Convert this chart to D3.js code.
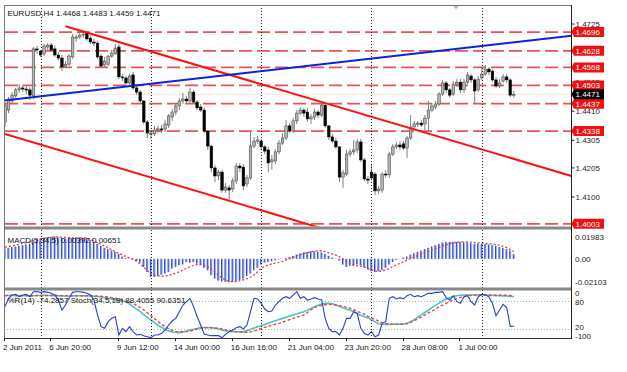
<!DOCTYPE html>
<html><head><meta charset="utf-8">
<script src="https://cdn.jsdelivr.net/npm/d3@7"></script>
<style>body{margin:0;background:#fff}svg{display:block}text{font-family:"Liberation Sans",Arial,sans-serif;font-size:8px}</style>
</head><body><svg id="c" width="627" height="372"></svg>
<script>
const headerText = "EURUSD,H4  1.4468 1.4483 1.4459 1.4471";
const macdText = "MACD(5,34,5) 0.00392 0.00651";
const oscText = "%R(14) -74.2857  Stoch(34,5,18) 88.4055 90.6351";

const open = [1.4371,1.4414,1.4447,1.4465,1.4487,1.4494,1.4490,1.4487,1.4465,1.4635,1.4627,1.4617,1.4642,1.4649,1.4635,1.4613,1.4602,1.4573,1.4580,1.4606,1.4674,1.4678,1.4685,1.4692,1.4674,1.4660,1.4656,1.4609,1.4577,1.4580,1.4609,1.4617,1.4642,1.4534,1.4530,1.4512,1.4541,1.4494,1.4479,1.4447,1.4371,1.4328,1.4328,1.4342,1.4346,1.4346,1.4360,1.4389,1.4407,1.4429,1.4447,1.4454,1.4447,1.4479,1.4443,1.4425,1.4414,1.4338,1.4284,1.4205,1.4176,1.4190,1.4125,1.4133,1.4129,1.4158,1.4212,1.4208,1.4147,1.4169,1.4284,1.4302,1.4302,1.4281,1.4270,1.4227,1.4230,1.4263,1.4295,1.4313,1.4357,1.4338,1.4375,1.4403,1.4414,1.4407,1.4382,1.4389,1.4407,1.4396,1.4432,1.4357,1.4317,1.4302,1.4281,1.4172,1.4183,1.4255,1.4263,1.4270,1.4299,1.4234,1.4165,1.4190,1.4183,1.4122,1.4125,1.4183,1.4180,1.4255,1.4281,1.4288,1.4292,1.4277,1.4313,1.4353,1.4364,1.4367,1.4364,1.4385,1.4414,1.4425,1.4436,1.4472,1.4512,1.4487,1.4472,1.4508,1.4515,1.4487,1.4515,1.4537,1.4523,1.4487,1.4530,1.4544,1.4562,1.4555,1.4523,1.4501,1.4519,1.4534,1.4523,1.4468];
const high = [1.4440,1.4461,1.4479,1.4494,1.4508,1.4505,1.4501,1.4497,1.4642,1.4646,1.4631,1.4653,1.4656,1.4656,1.4646,1.4624,1.4613,1.4591,1.4617,1.4689,1.4685,1.4696,1.4700,1.4700,1.4685,1.4671,1.4664,1.4617,1.4606,1.4613,1.4631,1.4653,1.4653,1.4544,1.4537,1.4544,1.4552,1.4501,1.4487,1.4450,1.4378,1.4342,1.4357,1.4357,1.4360,1.4378,1.4400,1.4418,1.4440,1.4458,1.4476,1.4465,1.4494,1.4487,1.4450,1.4436,1.4422,1.4342,1.4288,1.4216,1.4198,1.4198,1.4151,1.4143,1.4169,1.4223,1.4223,1.4219,1.4180,1.4335,1.4317,1.4320,1.4310,1.4288,1.4281,1.4252,1.4273,1.4306,1.4331,1.4378,1.4367,1.4385,1.4414,1.4425,1.4422,1.4422,1.4400,1.4418,1.4414,1.4443,1.4440,1.4360,1.4328,1.4313,1.4284,1.4198,1.4270,1.4273,1.4306,1.4310,1.4310,1.4241,1.4176,1.4216,1.4190,1.4140,1.4190,1.4198,1.4263,1.4292,1.4299,1.4302,1.4302,1.4320,1.4396,1.4375,1.4375,1.4378,1.4396,1.4447,1.4440,1.4447,1.4479,1.4523,1.4519,1.4494,1.4519,1.4526,1.4526,1.4526,1.4552,1.4544,1.4530,1.4537,1.4570,1.4577,1.4570,1.4562,1.4534,1.4526,1.4544,1.4544,1.4530,1.4483];
const low = [1.4353,1.4403,1.4440,1.4458,1.4476,1.4479,1.4472,1.4450,1.4454,1.4617,1.4606,1.4609,1.4631,1.4624,1.4606,1.4595,1.4555,1.4566,1.4573,1.4599,1.4660,1.4671,1.4674,1.4664,1.4653,1.4646,1.4599,1.4566,1.4570,1.4573,1.4602,1.4613,1.4526,1.4519,1.4501,1.4505,1.4487,1.4468,1.4440,1.4364,1.4313,1.4310,1.4320,1.4331,1.4331,1.4335,1.4349,1.4375,1.4396,1.4414,1.4436,1.4436,1.4436,1.4436,1.4414,1.4407,1.4331,1.4270,1.4190,1.4154,1.4161,1.4115,1.4115,1.4082,1.4118,1.4147,1.4190,1.4125,1.4136,1.4161,1.4277,1.4292,1.4270,1.4255,1.4190,1.4198,1.4219,1.4255,1.4288,1.4306,1.4331,1.4331,1.4364,1.4396,1.4389,1.4371,1.4364,1.4378,1.4385,1.4389,1.4349,1.4306,1.4295,1.4273,1.4154,1.4133,1.4176,1.4245,1.4252,1.4259,1.4227,1.4158,1.4147,1.4161,1.4107,1.4111,1.4115,1.4169,1.4169,1.4248,1.4273,1.4270,1.4270,1.4241,1.4306,1.4342,1.4353,1.4353,1.4335,1.4335,1.4407,1.4418,1.4429,1.4465,1.4476,1.4458,1.4465,1.4497,1.4476,1.4476,1.4508,1.4512,1.4440,1.4479,1.4523,1.4537,1.4541,1.4515,1.4494,1.4494,1.4512,1.4512,1.4461,1.4459];
const close = [1.4432,1.4450,1.4468,1.4487,1.4494,1.4490,1.4487,1.4468,1.4635,1.4631,1.4613,1.4646,1.4649,1.4631,1.4613,1.4602,1.4570,1.4580,1.4609,1.4678,1.4678,1.4685,1.4689,1.4671,1.4660,1.4656,1.4606,1.4573,1.4591,1.4609,1.4620,1.4638,1.4534,1.4530,1.4512,1.4537,1.4494,1.4479,1.4447,1.4371,1.4331,1.4331,1.4342,1.4346,1.4342,1.4364,1.4393,1.4407,1.4429,1.4447,1.4454,1.4447,1.4479,1.4443,1.4422,1.4414,1.4338,1.4284,1.4205,1.4176,1.4190,1.4125,1.4136,1.4125,1.4158,1.4212,1.4205,1.4140,1.4169,1.4284,1.4302,1.4306,1.4281,1.4266,1.4223,1.4234,1.4263,1.4295,1.4313,1.4357,1.4338,1.4375,1.4403,1.4414,1.4403,1.4382,1.4389,1.4407,1.4396,1.4432,1.4357,1.4317,1.4302,1.4281,1.4172,1.4187,1.4255,1.4263,1.4270,1.4299,1.4234,1.4165,1.4161,1.4169,1.4122,1.4129,1.4183,1.4180,1.4255,1.4281,1.4288,1.4281,1.4277,1.4313,1.4353,1.4364,1.4367,1.4360,1.4385,1.4414,1.4429,1.4436,1.4472,1.4512,1.4487,1.4468,1.4508,1.4515,1.4487,1.4515,1.4541,1.4523,1.4483,1.4526,1.4544,1.4562,1.4552,1.4523,1.4501,1.4512,1.4534,1.4523,1.4468,1.4471];

const macdMain = [0.0092,0.0098,0.0104,0.0110,0.0116,0.0122,0.0128,0.0134,0.0152,0.0170,0.0182,0.0188,0.0194,0.0197,0.0198,0.0194,0.0188,0.0182,0.0182,0.0188,0.0191,0.0191,0.0188,0.0182,0.0170,0.0152,0.0134,0.0116,0.0098,0.0086,0.0074,0.0062,0.0044,0.0020,0.0008,0.0002,-0.0004,-0.0022,-0.0034,-0.0072,-0.0117,-0.0162,-0.0162,-0.0153,-0.0141,-0.0132,-0.0117,-0.0087,-0.0072,-0.0057,-0.0051,-0.0028,-0.0034,-0.0028,-0.0043,-0.0051,-0.0081,-0.0102,-0.0147,-0.0177,-0.0195,-0.0203,-0.0207,-0.0210,-0.0206,-0.0200,-0.0192,-0.0177,-0.0153,-0.0132,-0.0102,-0.0081,-0.0051,-0.0034,-0.0028,-0.0022,-0.0013,-0.0004,0.0002,0.0008,0.0017,0.0026,0.0038,0.0047,0.0056,0.0062,0.0068,0.0068,0.0062,0.0056,0.0044,0.0026,0.0011,0.0002,-0.0016,-0.0051,-0.0072,-0.0063,-0.0057,-0.0051,-0.0057,-0.0075,-0.0093,-0.0111,-0.0117,-0.0111,-0.0099,-0.0081,-0.0051,-0.0028,-0.0010,0.0002,0.0011,0.0020,0.0038,0.0050,0.0062,0.0074,0.0086,0.0098,0.0110,0.0122,0.0134,0.0146,0.0152,0.0152,0.0152,0.0152,0.0152,0.0146,0.0146,0.0140,0.0134,0.0134,0.0134,0.0131,0.0128,0.0122,0.0116,0.0107,0.0098,0.0086,0.0074,0.0039];
const macdSignal = [0.0105,0.0110,0.0116,0.0122,0.0130,0.0138,0.0146,0.0154,0.0162,0.0170,0.0178,0.0185,0.0190,0.0194,0.0196,0.0196,0.0194,0.0192,0.0190,0.0189,0.0188,0.0188,0.0187,0.0185,0.0178,0.0160,0.0145,0.0130,0.0114,0.0098,0.0080,0.0064,0.0050,0.0035,0.0020,0.0008,-0.0005,-0.0022,-0.0045,-0.0075,-0.0105,-0.0130,-0.0147,-0.0153,-0.0155,-0.0153,-0.0148,-0.0138,-0.0128,-0.0117,-0.0100,-0.0085,-0.0070,-0.0058,-0.0052,-0.0051,-0.0058,-0.0072,-0.0092,-0.0117,-0.0145,-0.0170,-0.0190,-0.0200,-0.0205,-0.0205,-0.0198,-0.0188,-0.0178,-0.0165,-0.0145,-0.0115,-0.0085,-0.0068,-0.0055,-0.0045,-0.0038,-0.0032,-0.0022,-0.0010,0.0002,0.0014,0.0026,0.0038,0.0048,0.0056,0.0064,0.0070,0.0073,0.0070,0.0064,0.0054,0.0045,0.0033,0.0018,0.0000,-0.0025,-0.0045,-0.0058,-0.0063,-0.0065,-0.0075,-0.0087,-0.0100,-0.0110,-0.0112,-0.0108,-0.0098,-0.0085,-0.0070,-0.0055,-0.0040,-0.0025,-0.0010,0.0003,0.0017,0.0030,0.0043,0.0055,0.0067,0.0079,0.0091,0.0103,0.0115,0.0126,0.0136,0.0143,0.0148,0.0151,0.0152,0.0151,0.0149,0.0146,0.0143,0.0140,0.0137,0.0134,0.0131,0.0127,0.0120,0.0112,0.0100,0.0082,0.0065];

const wpr = [-32.6,-14.9,-7.9,-6.4,-11.4,-7.9,-6.4,-11.4,-0.8,-0.5,-2.2,-0.8,-2.2,-4.3,-7.9,-18.5,-39.7,-29.1,-14.9,-2.2,-0.8,-0.8,-2.2,-4.3,-7.9,-18.5,-50.2,-75.0,-78.6,-64.5,-57.4,-53.9,-92.8,-78.6,-85.7,-75.0,-85.7,-92.8,-91.4,-94.2,-96.4,-98.4,-92.8,-92.8,-89.2,-82.2,-71.6,-63.1,-57.4,-43.2,-29.1,-22.0,-14.9,-32.6,-53.9,-71.6,-91.4,-92.8,-94.2,-94.2,-94.2,-98.4,-91.4,-85.7,-82.2,-77.2,-75.0,-80.0,-71.6,-43.2,-14.9,-16.3,-25.5,-37.6,-43.2,-41.8,-29.1,-22.0,-14.9,-11.4,-14.9,-7.9,-0.5,-14.9,-11.4,-18.5,-16.3,-13.5,-16.3,-18.5,-57.4,-78.6,-85.7,-85.7,-92.8,-78.6,-57.4,-57.4,-43.2,-46.8,-78.6,-89.2,-92.8,-85.7,-96.4,-92.8,-68.0,-64.5,-14.9,-11.4,-16.3,-13.5,-16.3,-9.3,-6.4,-11.4,-9.3,-11.4,-7.9,-4.3,-4.3,-2.2,-2.2,-0.8,-13.5,-18.5,-9.3,-22.0,-25.5,-11.4,-9.3,-22.0,-29.1,-11.4,-6.4,-7.9,-11.4,-25.5,-51.7,-39.7,-27.7,-34.7,-74.4,-74.2857];
const stochMain = [90.5,91.0,91.2,91.0,90.8,90.6,90.5,90.3,90.6,91.0,91.2,91.3,91.2,91.0,90.8,90.5,90.2,90.0,90.0,90.2,90.4,90.5,90.5,90.3,90.0,89.5,88.8,87.8,86.5,85.0,83.5,82.0,80.5,79.2,78.0,73.0,67.5,62.0,56.8,50.5,44.5,39.1,33.5,28.0,23.5,19.5,15.5,13.5,12.5,12.2,13.5,15.5,17.8,19.5,21.0,22.8,23.2,23.2,22.8,21.5,20.0,18.0,16.0,14.5,14.3,14.0,14.0,14.3,16.5,19.5,22.0,24.5,27.0,29.5,32.0,35.0,37.5,40.0,42.5,45.0,47.5,49.7,52.0,54.5,56.8,60.0,63.5,67.0,70.5,73.0,74.4,74.5,73.5,71.0,67.5,65.0,62.0,60.0,56.5,52.5,49.0,46.5,43.5,39.5,35.0,31.0,30.0,29.8,29.8,30.0,30.4,30.6,31.0,32.0,35.5,39.5,45.0,50.0,55.0,60.0,65.5,70.0,75.0,79.5,83.5,86.5,89.0,90.7,91.5,92.0,92.1,92.2,92.1,92.1,92.0,92.0,91.6,91.2,90.7,90.4,90.2,90.0,89.2,88.4055];
const stochSignal = [91.2,91.3,91.3,91.2,91.0,90.9,90.8,90.7,90.7,90.8,91.0,91.1,91.2,91.2,91.1,91.0,90.8,90.6,90.4,90.3,90.3,90.4,90.5,90.5,90.4,90.2,89.9,89.4,88.7,87.8,86.6,85.2,83.5,81.0,78.0,77.5,74.4,70.0,65.5,60.5,54.5,48.5,42.0,35.5,30.0,25.0,20.5,17.0,14.8,14.0,14.0,14.3,15.5,17.5,20.0,21.8,22.6,22.8,22.6,22.0,21.4,20.0,18.5,16.8,15.5,14.5,13.6,13.0,12.9,13.8,16.0,18.5,21.0,23.5,26.0,28.0,30.0,32.0,34.5,37.0,40.0,42.6,45.0,47.5,50.0,55.0,61.0,65.5,68.8,70.5,71.5,72.3,72.0,71.0,69.5,68.0,66.0,64.0,61.0,57.5,54.5,51.5,47.0,43.5,40.0,36.5,33.5,31.5,30.5,29.9,29.8,29.8,29.9,31.0,34.0,37.5,41.5,45.5,50.0,54.0,58.0,62.5,67.0,70.5,74.5,78.5,81.5,84.5,87.0,89.0,90.5,91.5,92.1,92.1,92.1,92.1,92.1,92.1,92.0,92.0,91.8,91.5,91.0,90.6351];

const levelPrices = [1.4696, 1.4628, 1.4568, 1.4503, 1.4437, 1.4338, 1.4003];
const bidPrice = 1.4471;
const priceTicks = [1.4725, 1.4515, 1.4410, 1.4305, 1.4205, 1.4100];
const macdTicks = [0.01983, 0.00, -0.02103];
const macdTickLabels = ["0.01983", "0.00", "-0.02103"];
const oscLevels = [80, 20];
const oscAxisLabels = ["0", "80", "20", "-100"];
const oscAxisValues = [100, 80, 20, 0];
const oscAxisShift = [5, 4.5, 1.5, 1];
const timeLabels = ["2 Jun 2011","6 Jun 20:00","9 Jun 12:00","14 Jun 00:00","16 Jun 16:00","21 Jun 04:00","23 Jun 20:00","28 Jun 08:00","1 Jul 00:00"];
const timeLabelBars = [0, 13, 32, 48, 64, 80, 96, 112, 128];
const weekStartBars = [10, 41, 72, 103, 134];
// trend lines: [bar1, price1, bar2, price2, extendLeft]
const upperChannel = [17, 1.4717, 119, 1.4329, false];
const lowerChannel = [0, 1.4328, 60, 1.4098, true];
const blueTrend = [0, 1.4449, 120, 1.4625, true];

const svg = d3.select("#c");
const L = 4, R = 571.5;
const mainTop = 5, mainBot = 226.5, macdTop = 229.5, macdBot = 287.5, oscTop = 290.5, oscBot = 338;

const x = d3.scaleLinear().domain([0, 143]).range([5, 513.8]);
const y = d3.scaleLinear().domain([1.4100, 1.4725]).range([197, 24]);
const ym = d3.scaleLinear().domain([-0.02103, 0.01983]).range([282.3, 236.7]);
const ys = d3.scaleLinear().domain([0, 100]).range([338.4, 291.3]);
const yw = d3.scaleLinear().domain([-100, 0]).range([338.4, 291.3]);

const defs = svg.append("defs");
function clip(id, y0, y1){ defs.append("clipPath").attr("id", id).append("rect").attr("x", L).attr("y", y0).attr("width", R - L).attr("height", y1 - y0); }
clip("cm", mainTop, mainBot); clip("cd", macdTop, macdBot); clip("co", oscTop, oscBot);

const gMain = svg.append("g").attr("clip-path", "url(#cm)");
const gMacd = svg.append("g").attr("clip-path", "url(#cd)");
const gOsc = svg.append("g").attr("clip-path", "url(#co)");

gMain.append("line").attr("x1", L).attr("x2", R).attr("y1", y(bidPrice)).attr("y2", y(bidPrice)).attr("stroke", "#f6e6d2").attr("stroke-width", 1);
gMain.selectAll(".lvl").data(levelPrices).enter().append("line")
  .attr("x1", L + 1).attr("x2", R).attr("y1", d => y(d)).attr("y2", d => y(d))
  .attr("stroke", "#e24c50").attr("stroke-width", 1.7).attr("stroke-dasharray", "13,5").attr("opacity", 0.95);

svg.append("g").selectAll("line").data(weekStartBars).enter().append("line")
  .attr("x1", d => Math.round(x(d)) + 0.5).attr("x2", d => Math.round(x(d)) + 0.5)
  .attr("y1", mainTop).attr("y2", oscBot)
  .attr("stroke", "#222").attr("stroke-width", 1).attr("stroke-dasharray", "1,2");

const idx = d3.range(open.length);
const cg = gMain.append("g");
cg.selectAll(".wk").data(idx).enter().append("line")
  .attr("x1", i => x(i)).attr("x2", i => x(i)).attr("y1", i => y(high[i])).attr("y2", i => y(low[i]))
  .attr("stroke", "#7c8670").attr("stroke-width", 1);
cg.selectAll(".bd").data(idx).enter().append("rect")
  .attr("x", i => x(i) - 1.3).attr("width", 2.6)
  .attr("y", i => y(Math.max(open[i], close[i])))
  .attr("height", i => Math.max(1, Math.abs(y(open[i]) - y(close[i]))))
  .attr("fill", i => close[i] >= open[i] ? "#b4b4b4" : "#000")
  .attr("stroke", i => close[i] >= open[i] ? "#3a3a3a" : "#000").attr("stroke-width", 0.5);

function trend(g, t, color){
  const [b1, p1, b2, p2, extL] = t;
  const xa = x(b1), ya = y(p1), xb = x(b2), yb = y(p2);
  const k = (yb - ya) / (xb - xa);
  const xs = extL ? L : xa, xe = R;
  g.append("line").attr("x1", xs).attr("y1", ya + k * (xs - xa)).attr("x2", xe).attr("y2", ya + k * (xe - xa))
   .attr("stroke", color).attr("stroke-width", 2);
}
trend(gMain, upperChannel, "#ff1010");
trend(gMain, lowerChannel, "#ff1010");
trend(gMain, blueTrend, "#0b22e0");

svg.append("path").attr("d", "M452.5,5 L459.5,5 L456,9.5 Z").attr("fill", "#b8c0b0");
svg.append("text").attr("x", 7.5).attr("y", 16).attr("fill", "#111").text(headerText);

const hg = gMacd.append("g");
hg.selectAll(".hb").data(idx).enter().append("rect")
  .attr("x", i => x(i) - 1).attr("width", 2)
  .attr("y", i => Math.min(ym(0), ym(macdMain[i]))).attr("height", i => Math.abs(ym(macdMain[i]) - ym(0)))
  .attr("fill", "#9db4f0");
hg.selectAll(".hl").data(idx).enter().append("line")
  .attr("x1", i => x(i) - 0.5).attr("x2", i => x(i) - 0.5)
  .attr("y1", ym(0)).attr("y2", i => ym(macdMain[i]))
  .attr("stroke", "#2f46c8").attr("stroke-width", 1);
gMacd.append("path").datum(macdSignal)
  .attr("d", d3.line().x((d, i) => x(i)).y(d => ym(d)))
  .attr("fill", "none").attr("stroke", "#e23a3a").attr("stroke-width", 1.3).attr("stroke-dasharray", "2,2");
svg.append("text").attr("x", 7.5).attr("y", 243).attr("fill", "#111").text(macdText);

gOsc.selectAll(".ol").data(oscLevels).enter().append("line")
  .attr("x1", L).attr("x2", R).attr("y1", d => Math.round(ys(d)) + 0.5).attr("y2", d => Math.round(ys(d)) + 0.5)
  .attr("stroke", "#8cc88c").attr("stroke-width", 1).attr("stroke-dasharray", "1,2");
gOsc.append("path").datum(stochMain)
  .attr("d", d3.line().x((d, i) => x(i)).y(d => ys(d)))
  .attr("fill", "none").attr("stroke", "#48c4c4").attr("stroke-width", 1.6);
gOsc.append("path").datum(stochSignal)
  .attr("d", d3.line().x((d, i) => x(i)).y(d => ys(d)))
  .attr("fill", "none").attr("stroke", "#e84848").attr("stroke-width", 1.4).attr("stroke-dasharray", "3,2");
gOsc.append("path").datum(wpr)
  .attr("d", d3.line().x((d, i) => x(i)).y(d => yw(d)))
  .attr("fill", "none").attr("stroke", "#2840d0").attr("stroke-width", 1.1);
svg.append("text").attr("x", 7.5).attr("y", 303).attr("fill", "#111").text(oscText);

svg.append("rect").attr("x", L).attr("y", mainBot).attr("width", R - L).attr("height", 3).attr("fill", "#888");
svg.append("rect").attr("x", L).attr("y", macdBot).attr("width", R - L).attr("height", 3).attr("fill", "#888");
svg.append("line").attr("x1", L).attr("x2", R).attr("y1", mainTop + 0.5).attr("y2", mainTop + 0.5).attr("stroke", "#777");
svg.append("line").attr("x1", L).attr("x2", R).attr("y1", oscBot + 0.5).attr("y2", oscBot + 0.5).attr("stroke", "#333");
svg.append("line").attr("x1", L + 0.5).attr("x2", L + 0.5).attr("y1", mainTop).attr("y2", oscBot).attr("stroke", "#777");
svg.append("line").attr("x1", R).attr("x2", R).attr("y1", mainTop).attr("y2", oscBot + 1).attr("stroke", "#222");

const pa = svg.append("g");
pa.selectAll(".tk").data(priceTicks).enter().append("line")
  .attr("x1", R).attr("x2", R + 3).attr("y1", d => y(d)).attr("y2", d => y(d)).attr("stroke", "#222");
pa.selectAll(".tl").data(priceTicks).enter().append("text")
  .attr("x", R + 4).attr("y", d => y(d) + 3).attr("fill", "#222").text(d => d.toFixed(4));
function priceBox(p, fill){
  const yy = y(p);
  pa.append("path").attr("d", `M${R},${yy} L${R + 2.5},${yy - 5} L${R + 32.5},${yy - 5} L${R + 32.5},${yy + 5} L${R + 2.5},${yy + 5} Z`).attr("fill", fill);
  pa.append("text").attr("x", R + 4).attr("y", yy + 3).attr("fill", "#fff").text(p.toFixed(4));
}
levelPrices.forEach(p => priceBox(p, "#f20f0f"));
priceBox(bidPrice, "#000");

svg.selectAll(".mt").data(macdTicks).enter().append("text")
  .attr("x", R + 3.5).attr("y", d => ym(d) + 3).attr("fill", "#222").text((d, i) => macdTickLabels[i]);

svg.selectAll(".ot").data(oscAxisValues).enter().append("text")
  .attr("x", R + 3.5).attr("y", (d, i) => ys(d) + oscAxisShift[i]).attr("fill", "#222").text((d, i) => oscAxisLabels[i]);

svg.selectAll(".xt").data(timeLabelBars).enter().append("line")
  .attr("x1", d => Math.round(x(d)) - 0.5).attr("x2", d => Math.round(x(d)) - 0.5).attr("y1", oscBot).attr("y2", oscBot + 3).attr("stroke", "#222");
svg.selectAll(".xl").data(timeLabelBars).enter().append("text")
  .attr("x", d => Math.max(3, x(d) - 2)).attr("y", 350).attr("fill", "#111").text((d, i) => timeLabels[i]);
</script></body></html>
